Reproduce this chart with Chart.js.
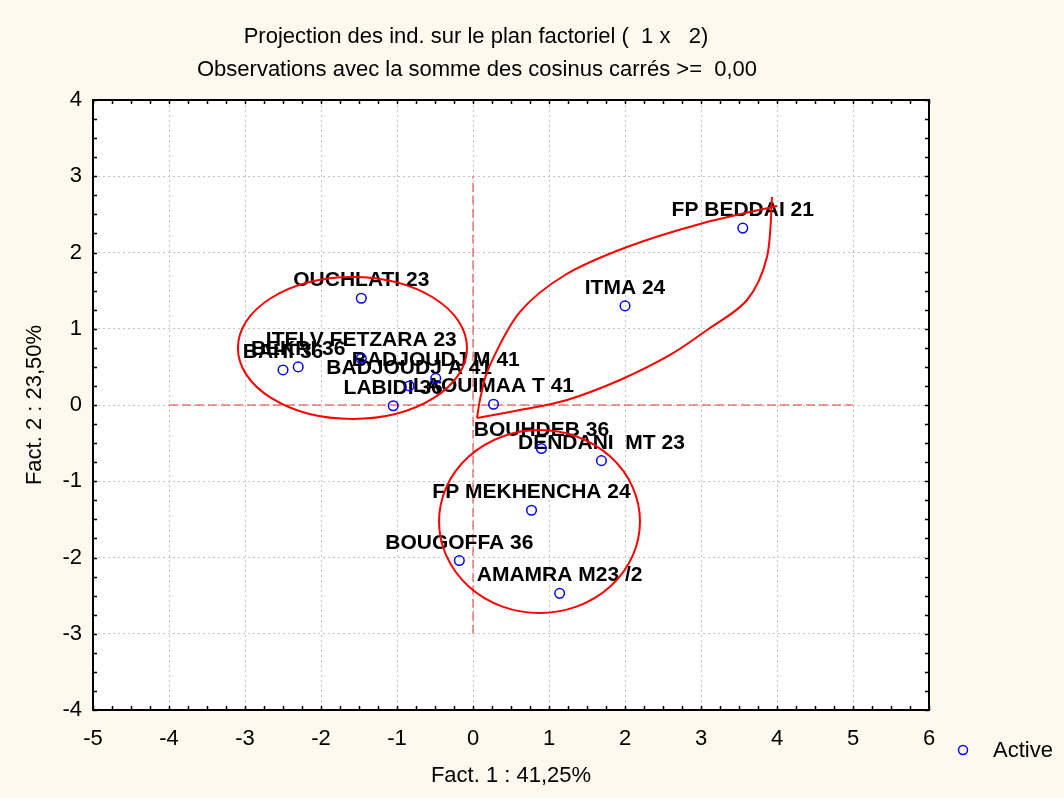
<!DOCTYPE html>
<html>
<head>
<meta charset="utf-8">
<script src="https://cdn.jsdelivr.net/npm/chart.js@4.4.0/dist/chart.umd.min.js"></script>
<style>
  html, body { margin: 0; padding: 0; background: #fdf9ee; }
  canvas { display: block; }
</style>
</head>
<body>
<canvas id="c" width="1064" height="798"></canvas>
<script>
// Individuals projected on the factorial plane (Fact. 1 x Fact. 2)
const individus = [
  'FP BEDDAI 21', 'ITMA 24', 'OUCHLATI 23', 'ITELV FETZARA 23', 'BAHI 36', 'BEKRI 36',
  'BADJOUDJ M 41', 'BADJOUDJ A 41', 'LABIDI 36', 'LAOUIMAA T 41', 'BOUHDEB 36',
  'DENDANI  MT 23', 'FP MEKHENCHA 24', 'BOUGOFFA 36', 'AMAMRA M23 /2'
];
const fact1 = [3.55, 2.00, -1.47, -1.47, -2.50, -2.30, -0.49, -0.84, -1.05, 0.27, 0.90, 1.69, 0.77, -0.18, 1.14];
const fact2 = [2.32, 1.30, 1.40, 0.61, 0.46, 0.50, 0.35, 0.25, -0.01, 0.01, -0.57, -0.73, -1.38, -2.04, -2.47];

// Axis ranges and tick labels
const xTicks = [-5, -4, -3, -2, -1, 0, 1, 2, 3, 4, 5, 6];
const yTicks = [-4, -3, -2, -1, 0, 1, 2, 3, 4];

// Texts
const titleLines = ['Projection des ind. sur le plan factoriel (  1 x   2)',
                    'Observations avec la somme des cosinus carrés >=  0,00'];
const xTitle = 'Fact. 1 : 41,25%';
const yTitle = 'Fact. 2 : 23,50%';
const seriesName = 'Active';

// Groups outlined by hand on the plane (factor units)
const groupEllipses = [
  { cx: -1.586, cy: 0.748, rx: 1.507, ry: 0.931 },
  { cx: 0.875, cy: -1.528, rx: 1.322, ry: 1.20 }
];
const petalUpperX = [0.053, 0.105, 0.224, 0.618, 1.211, 2.026, 2.987, 4.000];
const petalUpperY = [-0.170, 0.131, 0.525, 1.220, 1.705, 2.072, 2.374, 2.610];
const petalLowerX = [0.053, 0.618, 1.237, 1.934, 2.592, 3.079, 3.605, 3.868, 3.934];
const petalLowerY = [-0.170, -0.066, 0.066, 0.328, 0.656, 0.984, 1.377, 1.941, 2.728];

// Reference axes through the origin (factor units)
const refH = { y: 0, from: -4, to: 5 };
const refV = { x: 0, from: -3, to: 3 };

const FONT = '"Liberation Sans", Arial, sans-serif';
const BG = '#fdf9ee';
const BLUE = '#0000ff';

function smoothPath(ctx, pts) {
  ctx.moveTo(pts[0].x, pts[0].y);
  for (let i = 0; i < pts.length - 1; i++) {
    const p0 = pts[i - 1] || pts[i], p1 = pts[i], p2 = pts[i + 1], p3 = pts[i + 2] || p2;
    ctx.bezierCurveTo(p1.x + (p2.x - p0.x) / 6, p1.y + (p2.y - p0.y) / 6,
                      p2.x - (p3.x - p1.x) / 6, p2.y - (p3.y - p1.y) / 6, p2.x, p2.y);
  }
}

const decor = {
  id: 'decor',
  beforeDraw(chart) {
    const { ctx, chartArea: a } = chart;
    ctx.save();
    ctx.fillStyle = BG;
    ctx.fillRect(0, 0, chart.width, chart.height);
    ctx.fillStyle = '#ffffff';
    ctx.fillRect(a.left, a.top, a.right - a.left, a.bottom - a.top);
    ctx.restore();
  },
  beforeDatasetsDraw(chart) {
    const { ctx, scales: { x, y } } = chart;
    ctx.save();
    // dashed reference lines
    ctx.strokeStyle = 'rgba(235,30,30,0.9)';
    ctx.lineWidth = 1;
    ctx.setLineDash([9, 4]);
    ctx.beginPath();
    ctx.moveTo(x.getPixelForValue(refH.from), y.getPixelForValue(refH.y));
    ctx.lineTo(x.getPixelForValue(refH.to), y.getPixelForValue(refH.y));
    ctx.moveTo(x.getPixelForValue(refV.x), y.getPixelForValue(refV.from));
    ctx.lineTo(x.getPixelForValue(refV.x), y.getPixelForValue(refV.to));
    ctx.stroke();
    ctx.setLineDash([]);
    // point labels
    ctx.fillStyle = '#000';
    ctx.font = 'bold 21px ' + FONT;
    ctx.textAlign = 'center';
    ctx.textBaseline = 'alphabetic';
    individus.forEach((name, i) => {
      ctx.fillText(name, x.getPixelForValue(fact1[i]), y.getPixelForValue(fact2[i]) - 12);
    });
    ctx.restore();
  },
  afterDatasetsDraw(chart) {
    const { ctx, chartArea: a, scales: { x, y } } = chart;
    ctx.save();
    // group outlines
    ctx.strokeStyle = '#ff0000';
    ctx.lineWidth = 2;
    groupEllipses.forEach(e => {
      const px = x.getPixelForValue(e.cx), py = y.getPixelForValue(e.cy);
      const rx = Math.abs(x.getPixelForValue(e.cx + e.rx) - px);
      const ry = Math.abs(y.getPixelForValue(e.cy + e.ry) - py);
      ctx.beginPath();
      ctx.ellipse(px, py, rx, ry, 0, 0, Math.PI * 2);
      ctx.stroke();
    });
    [[petalUpperX, petalUpperY], [petalLowerX, petalLowerY]].forEach(([xs, ys]) => {
      const pts = xs.map((v, i) => ({ x: x.getPixelForValue(v), y: y.getPixelForValue(ys[i]) }));
      ctx.beginPath();
      smoothPath(ctx, pts);
      ctx.stroke();
    });

    // frame with inward ticks
    ctx.strokeStyle = '#000';
    ctx.lineWidth = 2;
    ctx.strokeRect(a.left, a.top, a.right - a.left, a.bottom - a.top);
    ctx.lineWidth = 1.5;
    ctx.beginPath();
    const tl = 4;
    for (let v = xTicks[0]; v <= xTicks[xTicks.length - 1] + 1e-9; v += 0.25) {
      const p = Math.round(x.getPixelForValue(v)) + 0.5;
      ctx.moveTo(p, a.bottom); ctx.lineTo(p, a.bottom - tl);
      ctx.moveTo(p, a.top); ctx.lineTo(p, a.top + tl);
    }
    for (let v = yTicks[0]; v <= yTicks[yTicks.length - 1] + 1e-9; v += 0.25) {
      const p = Math.round(y.getPixelForValue(v)) + 0.5;
      ctx.moveTo(a.left, p); ctx.lineTo(a.left + tl, p);
      ctx.moveTo(a.right, p); ctx.lineTo(a.right - tl, p);
    }
    ctx.stroke();

    // titles
    ctx.fillStyle = '#000';
    ctx.font = '22px ' + FONT;
    ctx.textAlign = 'center';
    ctx.textBaseline = 'middle';
    ctx.fillText(titleLines[0], 476, 37);
    ctx.fillText(titleLines[1], 477, 70);
    ctx.fillText(xTitle, (a.left + a.right) / 2, 776);
    ctx.save();
    ctx.translate(35, (a.top + a.bottom) / 2);
    ctx.rotate(-Math.PI / 2);
    ctx.fillText(yTitle, 0, 0);
    ctx.restore();

    // legend
    ctx.strokeStyle = BLUE;
    ctx.lineWidth = 1.5;
    ctx.beginPath();
    ctx.arc(963, 750, 4.5, 0, Math.PI * 2);
    ctx.stroke();
    ctx.textAlign = 'left';
    ctx.fillText(seriesName, 993, 751);
    ctx.restore();
  }
};

const tickFont = { family: FONT, size: 22 };

new Chart(document.getElementById('c'), {
  type: 'scatter',
  data: {
    datasets: [{
      label: seriesName,
      data: fact1.map((v, i) => ({ x: v, y: fact2[i] })),
      pointStyle: 'circle',
      pointRadius: 4.8,
      pointBorderWidth: 1.5,
      borderColor: BLUE,
      backgroundColor: 'rgba(0,0,0,0)'
    }]
  },
  options: {
    responsive: false,
    devicePixelRatio: 1,
    animation: false,
    layout: { padding: { top: 100, right: 135, bottom: 0, left: 0 } },
    plugins: { legend: { display: false }, tooltip: { enabled: false }, title: { display: false } },
    scales: {
      x: {
        type: 'linear',
        min: xTicks[0], max: xTicks[xTicks.length - 1],
        afterBuildTicks: s => { s.ticks = xTicks.map(v => ({ value: v })); },
        afterFit: s => { s.height = 88; },
        ticks: { font: tickFont, color: '#000', padding: 16, maxRotation: 0, autoSkip: false },
        grid: { color: '#c4c4c4', lineWidth: 1, drawTicks: false },
        border: { display: false, dash: [2, 3] }
      },
      y: {
        type: 'linear',
        min: yTicks[0], max: yTicks[yTicks.length - 1],
        afterBuildTicks: s => { s.ticks = yTicks.map(v => ({ value: v })); },
        afterFit: s => { s.width = 93; },
        ticks: { font: tickFont, color: '#000', padding: 11, autoSkip: false },
        grid: { color: '#c4c4c4', lineWidth: 1, drawTicks: false },
        border: { display: false, dash: [2, 3] }
      }
    }
  },
  plugins: [decor]
});
</script>
</body>
</html>
